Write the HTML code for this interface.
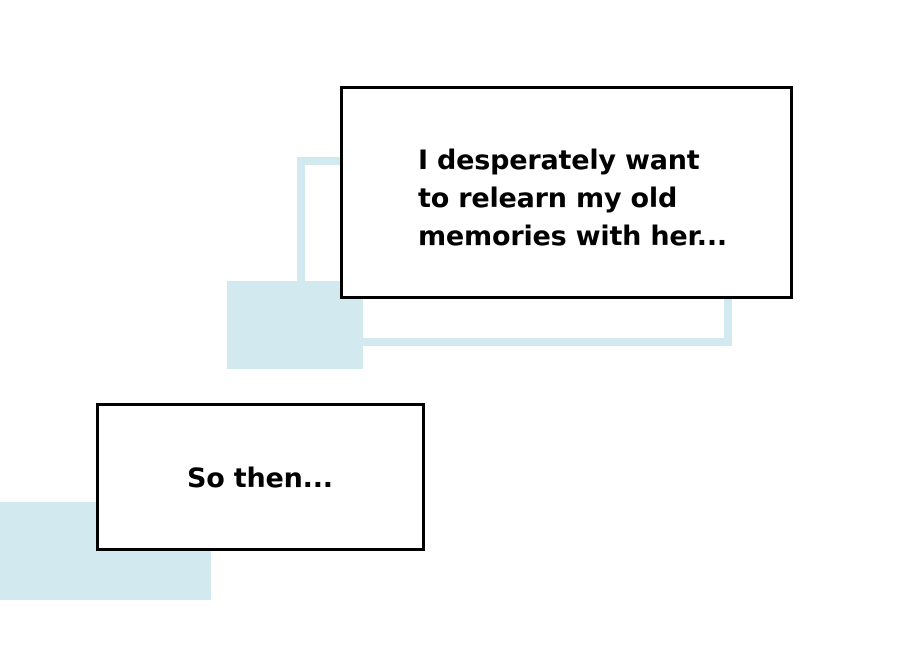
<!DOCTYPE html>
<html><head><style>
html,body{margin:0;padding:0;background:#fff;}
body{width:900px;height:649px;position:relative;overflow:hidden;font-family:"DejaVu Sans","Liberation Sans",sans-serif;}
.a{position:absolute;box-sizing:border-box;}
.t{position:absolute;font-size:27px;font-weight:bold;line-height:38px;color:#000;white-space:nowrap;letter-spacing:-0.2px;}
</style></head><body>
<div class="a" style="left:297px;top:157px;width:435px;height:189px;border:8px solid #d2e9ef;"></div>
<div class="a" style="left:227px;top:281px;width:136px;height:88px;background:#d2e9ef;"></div>
<div class="a" style="left:0;top:502px;width:211px;height:98px;background:#d2e9ef;"></div>
<div class="a" style="left:340px;top:86px;width:453px;height:213px;border:3px solid #000;background:#fff;"></div>
<div class="t" style="left:418px;top:142px;">I desperately want<br>to relearn my old<br>memories with her...</div>
<div class="a" style="left:96px;top:403px;width:329px;height:148px;border:3px solid #000;background:#fff;"></div>
<div class="t" style="left:187px;top:460px;">So then...</div>
</body></html>
